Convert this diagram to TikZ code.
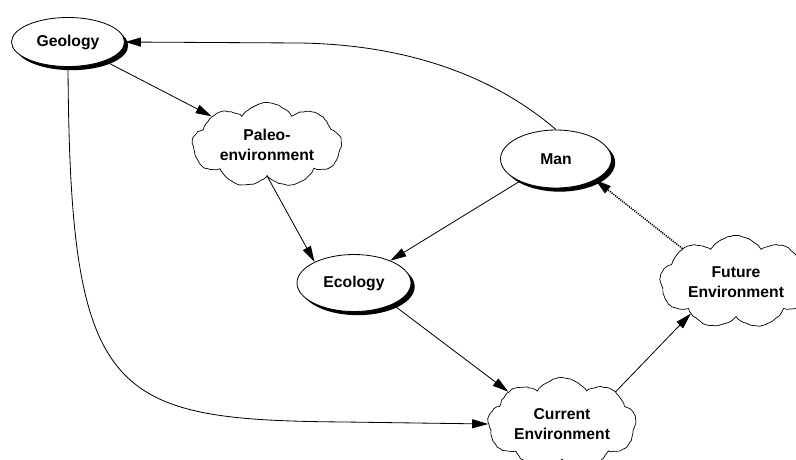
\documentclass[tikz,border=0pt]{standalone}
\usepackage{fontspec}
\setmainfont{Liberation Sans}
\usetikzlibrary{arrows.meta,shapes.geometric,shapes.symbols,shadows,decorations.pathmorphing}

\begin{document}
\begin{tikzpicture}[x=0.3mm,y=-0.3mm]
\tikzset{
  ovalnode/.style={ellipse,draw,fill=white,line width=0.7pt,inner sep=0pt,
    font=\bfseries\fontsize{13.4}{17}\selectfont,
    drop shadow={shadow xshift=1.1mm,shadow yshift=-1.1mm,fill=black,opacity=1}},
  cloudnode/.style={cloud,cloud puffs=9,cloud puff arc=115,cloud ignores aspect=false,
    aspect=1.9,draw,fill=white,line width=0.6pt,inner sep=0pt,align=center,
    font=\bfseries\fontsize{13.4}{17}\selectfont,
    decorate,decoration={random steps,segment length=2.5pt,amplitude=0.4pt}},
  directed/.style={-{Triangle[length=4.8mm,width=2.7mm]},line width=0.7pt},
  dottedarrow/.style={-{Triangle[length=4.8mm,width=2.7mm]},line width=1.3pt,
    dash pattern=on 1pt off 0.9pt}
}
\pgfmathsetseed{7}
\useasboundingbox (0,0) rectangle (796,459);
\node[ovalnode,minimum width=33.9mm,minimum height=14.7mm] (n_geo) at (68,42) {Geology};
\node[ovalnode,minimum width=33.3mm,minimum height=17.4mm] (n_man) at (556,159) {Man};
\node[ovalnode,minimum width=34.2mm,minimum height=17.1mm] (n_eco) at (354,283) {Ecology};
\node[cloudnode,aspect=2.1,minimum width=44.7mm,minimum height=21.6mm] (n_paleo) at (267,145) {Paleo-\\environment};
\node[cloudnode,minimum width=44.4mm,minimum height=26.4mm] (n_cur) at (562,424) {Current\\Environment};
\node[cloudnode,minimum width=45.6mm,minimum height=26.4mm] (n_fut) at (736,282) {Future\\Environment};
\draw[directed] (n_man.north) .. controls (510,90) and (430,45) .. (300,43) -- (n_geo.east);
\draw[directed] (n_geo) -- (n_paleo);
\draw[directed] (n_geo.south) .. controls (70,400) and (110,420) .. (345,422) -- (n_cur.west);
\draw[directed] (n_paleo.south) -- (n_eco.152);
\draw[directed] (n_man) -- (n_eco);
\draw[directed] (n_eco.-29) -- (n_cur.149);
\draw[directed] (n_cur.31) -- (n_fut.215);
\draw[dottedarrow] (n_fut.148) -- (n_man.-28);
\end{tikzpicture}
\end{document}
